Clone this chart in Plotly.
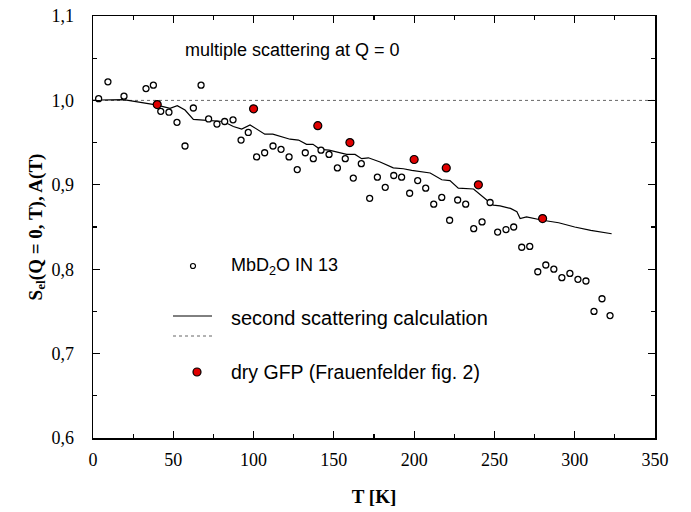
import plotly.graph_objects as go

# MbD2O IN 13 (open circles)
mb_T = [3.5, 9.3, 19.3, 33, 37.6, 42.2, 47.3, 52.3, 57.3, 62.5, 67.3, 72, 77.2, 82, 87.2, 92.2, 96.7,
        101.9, 106.9, 112.1, 117.1, 122.1, 127.2, 132.2, 137.2, 142, 147, 152.2, 157.1, 162.1, 167.1,
        172.3, 177.1, 182, 187.3, 192.2, 197.2, 202.2, 207.2, 212.2, 217.2, 222.1, 227.1, 232.1, 237.1,
        242.3, 247.3, 252, 257.2, 262, 267, 272, 277, 282, 287, 292, 297, 302, 307, 312, 317, 322]
mb_S = [1.002, 1.022, 1.005, 1.014, 1.018, 0.987, 0.986, 0.974, 0.946, 0.991, 1.018, 0.978, 0.972, 0.975, 0.977, 0.953, 0.962,
        0.933, 0.938, 0.946, 0.942, 0.933, 0.918, 0.938, 0.931, 0.941, 0.936, 0.920, 0.931, 0.908, 0.925,
        0.884, 0.909, 0.897, 0.911, 0.909, 0.890, 0.905, 0.896, 0.877, 0.885, 0.858, 0.882, 0.877, 0.848,
        0.856, 0.879, 0.844, 0.847, 0.850, 0.826, 0.827, 0.797, 0.805, 0.800, 0.790, 0.795, 0.788, 0.786, 0.750, 0.765, 0.745]

# second scattering calculation (solid line)
calc_T = [0, 4.4, 19, 29.3, 39.2, 48, 52.5, 57.3, 62.5, 70.8, 81.2, 87.4, 92.6, 97.8, 107, 112, 122.7, 128,
          133, 137, 141.4, 147, 153.8, 158, 163.2, 167.3, 171.5, 178.8, 187, 193.3, 198.5, 210, 217.2, 222.3,
          227.5, 237, 245.2, 249.3, 253.5, 260, 264, 266, 270, 280, 290, 300, 310, 318, 323]
calc_S = [1.0, 1.0005, 1.001, 0.998, 0.9946, 0.9906, 0.9937, 0.9886, 0.9776, 0.9764, 0.975, 0.969, 0.966, 0.971,
          0.960, 0.960, 0.954, 0.953, 0.948, 0.948, 0.942, 0.941, 0.938, 0.936, 0.936, 0.931, 0.932, 0.927,
          0.920, 0.919, 0.917, 0.914, 0.906, 0.905, 0.896, 0.895, 0.882, 0.876, 0.875, 0.872, 0.868, 0.860,
          0.862, 0.858, 0.855, 0.850, 0.846, 0.843, 0.842]

# reference level (dotted)
ref_T = [0, 350]
ref_S = [1.0, 1.0]

# dry GFP (Frauenfelder fig. 2)
gfp_T = [40, 100, 140, 160, 200, 220, 240, 280]
gfp_S = [0.995, 0.99, 0.97, 0.95, 0.93, 0.92, 0.90, 0.86]

x_ticks = [0, 50, 100, 150, 200, 250, 300, 350]
x_ticktext = ["0", "50", "100", "150", "200", "250", "300", "350"]
y_ticks = [0.6, 0.7, 0.8, 0.9, 1.0, 1.1]
y_ticktext = ["0,6", "0,7", "0,8", "0,9", "1,0", "1,1"]

fig = go.Figure()
fig.add_trace(go.Scatter(x=ref_T, y=ref_S, mode="lines",
                         line=dict(color="#666666", width=1, dash="dot"), showlegend=False))
fig.add_trace(go.Scatter(x=calc_T, y=calc_S, mode="lines",
                         line=dict(color="black", width=1.2), showlegend=False))
fig.add_trace(go.Scatter(x=mb_T, y=mb_S, mode="markers",
                         marker=dict(symbol="circle", size=6, color="white",
                                     line=dict(color="black", width=1.3)), showlegend=False))
fig.add_trace(go.Scatter(x=gfp_T, y=gfp_S, mode="markers",
                         marker=dict(symbol="circle", size=8, color="#e00000",
                                     line=dict(color="black", width=1.2)), showlegend=False))

L, R, T, B = 93, 655, 16, 438
W, H = 691, 512
def px(x): return (x - L) / (R - L)
def py(y): return (B - y) / (B - T)

sans = "Liberation Sans, Arial, sans-serif"
serif = "Liberation Serif, Times New Roman, serif"

shapes = [
    dict(type="line", xref="paper", yref="paper", x0=px(173), x1=px(212), y0=py(316), y1=py(316),
         line=dict(color="black", width=1)),
    dict(type="line", xref="paper", yref="paper", x0=px(173), x1=px(212), y0=py(336), y1=py(336),
         line=dict(color="#666666", width=1, dash="dot")),
    dict(type="circle", xref="paper", yref="paper", x0=px(190.5), x1=px(195.5), y0=py(268.5), y1=py(263.5),
         line=dict(color="black", width=1.2), fillcolor="white"),
    dict(type="circle", xref="paper", yref="paper", x0=px(193), x1=px(201), y0=py(376), y1=py(368),
         line=dict(color="black", width=1.2), fillcolor="#e00000"),
]
annotations = [
    dict(text="multiple scattering at Q = 0", xref="paper", yref="paper", x=px(183), y=py(50),
         xanchor="left", yanchor="middle", showarrow=False, font=dict(family=sans, size=18, color="black")),
    dict(text="MbD<sub>2</sub>O IN 13", xref="paper", yref="paper", x=px(229), y=py(266),
         xanchor="left", yanchor="middle", showarrow=False, font=dict(family=sans, size=18, color="black")),
    dict(text="second scattering calculation", xref="paper", yref="paper", x=px(229), y=py(318),
         xanchor="left", yanchor="middle", showarrow=False, font=dict(family=sans, size=20, color="black")),
    dict(text="dry GFP (Frauenfelder fig. 2)", xref="paper", yref="paper", x=px(229), y=py(372),
         xanchor="left", yanchor="middle", showarrow=False, font=dict(family=sans, size=19.5, color="black")),
]

fig.update_layout(
    width=W, height=H,
    margin=dict(l=L, r=W - R, t=T, b=H - B),
    paper_bgcolor="white", plot_bgcolor="white",
    shapes=shapes, annotations=annotations,
    xaxis=dict(range=[0, 350], tickvals=x_ticks, ticktext=x_ticktext, automargin=False,
               showline=True, linecolor="black", linewidth=1.5, mirror="ticks",
               ticks="inside", ticklen=7, tickwidth=1.2, tickcolor="black",
               minor=dict(dtick=25, ticks="inside", ticklen=4, tickwidth=1.2, tickcolor="black"),
               showgrid=False, zeroline=False, ticklabelstandoff=5,
               tickfont=dict(family=serif, size=18, color="black"),
               title=dict(text="<b>T [K]</b>", font=dict(family=serif, size=19, color="black"), standoff=20)),
    yaxis=dict(range=[0.6, 1.1], tickvals=y_ticks, ticktext=y_ticktext, automargin=False,
               showline=True, linecolor="black", linewidth=1.5, mirror="ticks",
               ticks="inside", ticklen=7, tickwidth=1.2, tickcolor="black",
               minor=dict(dtick=0.05, ticks="inside", ticklen=4, tickwidth=1.2, tickcolor="black"),
               showgrid=False, zeroline=False, ticklabelstandoff=14,
               tickfont=dict(family=serif, size=18, color="black"),
               title=dict(text="<b>S<sub>el</sub>(Q = 0, T), A(T)</b>",
                          font=dict(family=serif, size=19, color="black"), standoff=4)),
)

fig.write_html("out.html", config={"displayModeBar": False, "staticPlot": True},
               post_script="document.body.style.margin='0';")
